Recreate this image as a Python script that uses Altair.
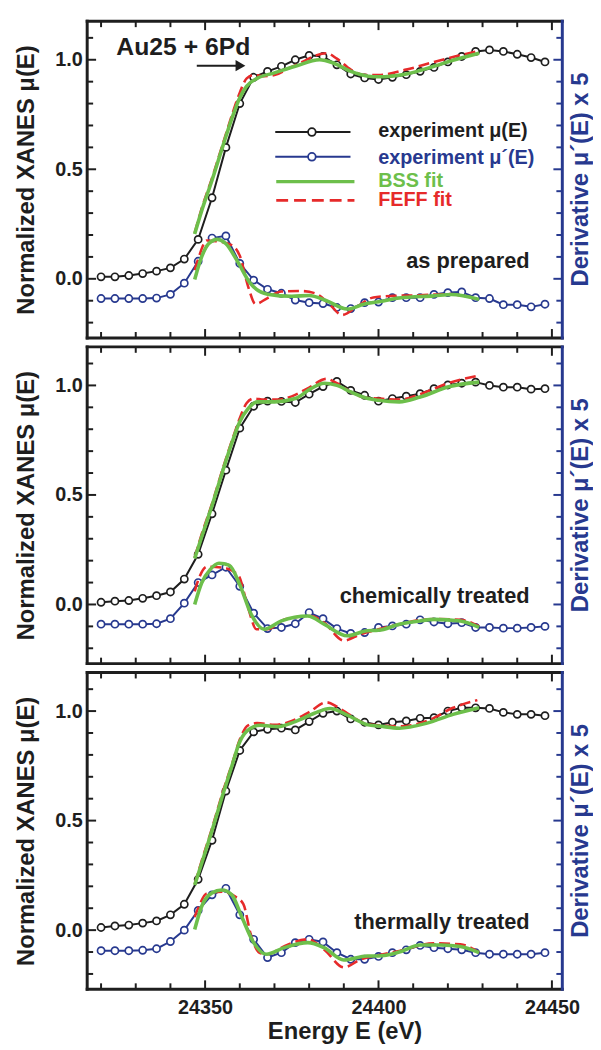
import altair as alt
import pandas as pd

# ---------------- data ----------------
E_EXP = [24320, 24324, 24328, 24332, 24336, 24340, 24344, 24348, 24352, 24356,
         24360, 24364, 24368, 24372, 24376, 24380, 24384, 24388, 24392, 24396,
         24400, 24404, 24408, 24412, 24416, 24420, 24424, 24428, 24432, 24436,
         24440, 24444, 24448]

# panel 1: as prepared
P1_MU = [0.009, 0.009, 0.015, 0.024, 0.035, 0.05, 0.09, 0.18, 0.37, 0.60, 0.80,
         0.92, 0.947, 0.97, 1.0, 1.02, 1.015, 0.977, 0.935, 0.917, 0.91, 0.92,
         0.932, 0.947, 0.965, 0.99, 1.015, 1.038, 1.045, 1.038, 1.025, 1.01, 0.99]
P1_DMU = [-0.09, -0.09, -0.09, -0.09, -0.088, -0.071, -0.02, 0.08, 0.186, 0.196,
          0.07, -0.006, -0.048, -0.066, -0.097, -0.109, -0.113, -0.131, -0.136,
          -0.109, -0.106, -0.086, -0.086, -0.086, -0.071, -0.063, -0.06, -0.086,
          -0.09, -0.118, -0.118, -0.128, -0.116]
P1_BSS_MU_E = [24347, 24349, 24352, 24355, 24358, 24360, 24362, 24365, 24370, 24376,
               24383, 24387, 24392, 24397, 24400, 24408, 24416, 24422, 24429]
P1_BSS_MU = [0.205, 0.31, 0.45, 0.60, 0.745, 0.827, 0.88, 0.915, 0.94, 0.97,
             1.0, 0.985, 0.947, 0.925, 0.922, 0.935, 0.97, 1.0, 1.03]
P1_FEFF_MU_E = [24347, 24349, 24352, 24355, 24358, 24360, 24362, 24364, 24367, 24370,
                24374, 24378, 24382, 24385, 24388, 24392, 24396, 24400, 24408, 24416,
                24422, 24429]
P1_FEFF_MU = [0.21, 0.32, 0.46, 0.61, 0.76, 0.85, 0.915, 0.93, 0.925, 0.93,
              0.96, 0.99, 1.02, 1.03, 1.005, 0.955, 0.93, 0.93, 0.955, 0.99,
              1.015, 1.04]
P1_BSS_D_E = [24347, 24349, 24351, 24353.5, 24356, 24359.5, 24363, 24368, 24375,
              24380, 24385, 24391, 24396, 24400, 24406, 24416, 24421, 24429]
P1_BSS_D = [-0.003, 0.10, 0.16, 0.18, 0.16, 0.075, -0.02, -0.07, -0.08,
            -0.076, -0.10, -0.138, -0.115, -0.105, -0.088, -0.078, -0.072, -0.094]
P1_FEFF_D_E = [24347, 24348, 24350.5, 24353, 24357.5, 24360, 24362.5, 24364.5, 24368,
               24372, 24378, 24382, 24385.5, 24389.5, 24394, 24398.5, 24404, 24412,
               24420, 24429]
P1_FEFF_D = [0.04, 0.09, 0.175, 0.172, 0.155, 0.105, -0.04, -0.115, -0.088,
             -0.058, -0.056, -0.068, -0.11, -0.165, -0.125, -0.085, -0.078, -0.075,
             -0.07, -0.095]

# panel 2: chemically treated
P2_MU = [0.01, 0.015, 0.018, 0.028, 0.04, 0.057, 0.116, 0.229, 0.414, 0.613, 0.805,
         0.905, 0.928, 0.927, 0.922, 0.96, 0.995, 1.018, 0.977, 0.955, 0.928, 0.94,
         0.951, 0.962, 0.985, 1.002, 1.01, 1.015, 1.0, 0.992, 0.992, 0.983, 0.985]
P2_DMU = [-0.09, -0.09, -0.09, -0.09, -0.088, -0.065, 0.006, 0.10, 0.135, 0.17,
          0.083, -0.04, -0.11, -0.105, -0.088, -0.037, -0.065, -0.11, -0.132,
          -0.128, -0.105, -0.098, -0.09, -0.07, -0.08, -0.088, -0.083, -0.105,
          -0.105, -0.108, -0.108, -0.105, -0.1]
P2_BSS_MU_E = [24347, 24349, 24352, 24355, 24357.7, 24360, 24362.4, 24365, 24370,
               24376, 24380.5, 24384.3, 24388, 24392, 24397, 24400, 24406, 24412,
               24420.5, 24429]
P2_BSS_MU = [0.21, 0.308, 0.451, 0.605, 0.737, 0.834, 0.894, 0.925, 0.925,
             0.94, 0.985, 1.01, 1.0, 0.97, 0.94, 0.932, 0.925, 0.947, 0.995, 1.015]
P2_FEFF_MU_E = [24347, 24349, 24352, 24355, 24358, 24360, 24362, 24364, 24367, 24371,
                24375, 24380, 24385, 24388, 24392, 24396, 24400, 24406, 24412, 24420,
                24429]
P2_FEFF_MU = [0.215, 0.32, 0.46, 0.615, 0.76, 0.85, 0.92, 0.94, 0.935, 0.935,
              0.95, 0.99, 1.03, 1.01, 0.97, 0.945, 0.94, 0.935, 0.96, 1.01, 1.045]
P2_BSS_D_E = [24347, 24349, 24351.5, 24354, 24357, 24360, 24363.3, 24367, 24372,
              24379.6, 24384.3, 24391, 24396.7, 24400, 24406, 24412, 24416, 24423.6,
              24429]
P2_BSS_D = [0.0, 0.098, 0.16, 0.188, 0.178, 0.09, -0.045, -0.113, -0.075,
            -0.053, -0.09, -0.143, -0.12, -0.118, -0.09, -0.075, -0.068, -0.075,
            -0.105]
P2_FEFF_D_E = [24347, 24348, 24350.5, 24355, 24359.5, 24362.4, 24364.8, 24368, 24373,
               24380.5, 24384.3, 24390, 24395, 24400, 24406, 24416, 24423.6, 24429]
P2_FEFF_D = [0.06, 0.11, 0.172, 0.168, 0.135, -0.015, -0.113, -0.113, -0.068,
             -0.053, -0.083, -0.165, -0.135, -0.113, -0.09, -0.066, -0.07, -0.1]

# panel 3: thermally treated
P3_MU = [0.012, 0.019, 0.023, 0.032, 0.042, 0.07, 0.118, 0.232, 0.41, 0.635, 0.82,
         0.905, 0.917, 0.922, 0.914, 0.952, 0.99, 1.0, 0.964, 0.949, 0.937, 0.949,
         0.955, 0.967, 0.97, 1.0, 1.015, 1.015, 1.012, 0.994, 0.985, 0.985, 0.979]
P3_DMU = [-0.094, -0.094, -0.094, -0.092, -0.085, -0.052, 0.0, 0.09, 0.161, 0.191,
          0.07, -0.042, -0.125, -0.103, -0.057, -0.042, -0.054, -0.103, -0.133,
          -0.133, -0.12, -0.103, -0.09, -0.07, -0.08, -0.085, -0.09, -0.103, -0.11,
          -0.11, -0.11, -0.11, -0.103]
P3_BSS_MU_E = [24347, 24349, 24352, 24355, 24357.7, 24360, 24363, 24366, 24371,
               24376, 24381.5, 24386, 24391, 24397, 24400, 24406, 24414, 24421.5,
               24429]
P3_BSS_MU = [0.206, 0.304, 0.455, 0.613, 0.748, 0.86, 0.92, 0.935, 0.929,
             0.952, 0.99, 1.012, 0.982, 0.937, 0.932, 0.922, 0.945, 0.985, 1.015]
P3_FEFF_MU_E = [24347, 24349, 24352, 24355, 24358, 24360, 24362.4, 24365, 24370,
                24375, 24380, 24385, 24388, 24391, 24396.7, 24400, 24406, 24414,
                24421.5, 24428.5]
P3_FEFF_MU = [0.21, 0.315, 0.465, 0.625, 0.77, 0.87, 0.935, 0.945, 0.937,
              0.955, 0.995, 1.04, 1.02, 0.99, 0.94, 0.935, 0.93, 0.955, 1.015, 1.05]
P3_BSS_D_E = [24347, 24349, 24352, 24354.8, 24357.7, 24360.5, 24364, 24367.6,
              24372.8, 24379.6, 24384.3, 24390, 24396.7, 24400, 24406, 24412, 24418,
              24423.6, 24429]
P3_BSS_D = [0.003, 0.108, 0.17, 0.183, 0.161, 0.063, -0.057, -0.11, -0.08,
            -0.057, -0.08, -0.136, -0.118, -0.118, -0.1, -0.068, -0.068, -0.075,
            -0.103]
P3_FEFF_D_E = [24347, 24348, 24350.5, 24355, 24358.6, 24361, 24363.3, 24365.7, 24368,
               24373, 24379.6, 24384.3, 24390, 24395, 24400, 24406, 24416, 24423.6,
               24429]
P3_FEFF_D = [0.06, 0.1, 0.168, 0.175, 0.154, 0.12, -0.027, -0.103, -0.11,
             -0.072, -0.042, -0.088, -0.17, -0.133, -0.115, -0.095, -0.06, -0.065,
             -0.103]

PANEL_LABELS = ["as prepared", "chemically treated", "thermally treated"]
SAMPLE_LABEL = "Au25 + 6Pd"
SAMPLE_LABEL_POS = [24324.4, 1.023]
ARROW_E = [24347.6, 24359.0]
ARROW_HEAD_E = 24360.2
ARROW_V = 0.973
LEGEND_TEXT = ["experiment μ(E)", "experiment μ´(E)", "BSS fit", "FEFF fit"]

X_DOMAIN = [24316, 24453]
Y_DOMAIN = [-0.27, 1.176]
X_LABELS = [24350, 24400, 24450]
X_TICKS = [24320, 24330, 24340, 24350, 24360, 24370, 24380, 24390, 24400, 24410,
           24420, 24430, 24440, 24450]
Y_LABELS = [0.0, 0.5, 1.0]
Y_TICKS = [-0.2, -0.1, 0.0, 0.1, 0.2, 0.3, 0.4, 0.5, 0.6, 0.7, 0.8, 0.9, 1.0, 1.1]

# ---------------- styling ----------------
W, H = 480, 320
FONT = "Liberation Sans"
BLACK = "#1e1e1e"
BLUE = "#27398f"
GREEN = "#6dbf4b"
RED = "#e62a2a"

one = pd.DataFrame({"a": [0]})


def series(e, v):
    return pd.DataFrame({"E": e, "v": v})


def panel(i, mu, dmu, bmu_e, bmu, bd_e, bd, fmu_e, fmu, fd_e, fd, label, label_y, bottom):
    xs = alt.Scale(domain=X_DOMAIN, nice=False, zero=False)
    ys = alt.Scale(domain=Y_DOMAIN, nice=False, zero=False)
    if bottom:
        xaxis = alt.Axis(values=X_LABELS, format="d", ticks=False, domain=False,
                         grid=False, labelPadding=8, labelFontSize=20,
                         labelFont=FONT, labelFontWeight="bold", labelColor=BLACK,
                         labelFlush=False, title="Energy E (eV)", titleFontSize=24,
                         titleFont=FONT, titleFontWeight="bold", titleColor=BLACK,
                         titlePadding=3, titleX=260)
    else:
        xaxis = None
    yaxis = alt.Axis(values=Y_LABELS, format=".1f", ticks=False, domain=False,
                     grid=False, labelPadding=5, labelFontSize=20, labelFont=FONT,
                     labelFontWeight="bold", labelColor=BLACK,
                     title="Normalized XANES μ(E)", titleFontSize=24, titleFont=FONT,
                     titleFontWeight="bold", titleColor=BLACK, titlePadding=16)
    X = alt.X("E:Q", scale=xs, axis=xaxis)
    Y = alt.Y("v:Q", scale=ys, axis=yaxis)

    exp_mu = series(E_EXP, mu)
    exp_d = series(E_EXP, dmu)

    layers = []
    # experimental curves
    for df, col in [(exp_mu, BLACK), (exp_d, BLUE)]:
        layers.append(alt.Chart(df).mark_line(color=col, strokeWidth=2).encode(x=X, y=Y))
        layers.append(alt.Chart(df).mark_point(shape="circle", filled=False, fill="white",
                                               fillOpacity=1, stroke=col, strokeWidth=1.7,
                                               size=52, opacity=1).encode(x=X, y=Y))
    # FEFF fits (dashed red)
    for e, v in [(fmu_e, fmu), (fd_e, fd)]:
        layers.append(alt.Chart(series(e, v)).mark_line(
            color=RED, strokeWidth=2.6, strokeDash=[11, 5], interpolate="monotone"
        ).encode(x=X, y=Y))
    # BSS fits (green)
    for e, v in [(bmu_e, bmu), (bd_e, bd)]:
        layers.append(alt.Chart(series(e, v)).mark_line(
            color=GREEN, strokeWidth=3.6, interpolate="monotone"
        ).encode(x=X, y=Y))

    # inward ticks
    ymin = pd.DataFrame({"v": [t for t in Y_TICKS if t not in Y_LABELS]})
    ymaj = pd.DataFrame({"v": Y_LABELS})
    xmin = pd.DataFrame({"E": [t for t in X_TICKS if t not in X_LABELS]})
    xmaj = pd.DataFrame({"E": X_LABELS})
    for df, ln in [(ymin, 6), (ymaj, 9)]:
        layers.append(alt.Chart(df).mark_rule(color=BLACK, strokeWidth=2).encode(
            y=Y, x=alt.value(0), x2=alt.value(ln)))
        layers.append(alt.Chart(df).mark_rule(color=BLUE, strokeWidth=2).encode(
            y=Y, x=alt.value(W - ln), x2=alt.value(W)))
    for df, ln in [(xmin, 6), (xmaj, 9)]:
        layers.append(alt.Chart(df).mark_rule(color=BLACK, strokeWidth=2).encode(
            x=X, y=alt.value(0), y2=alt.value(ln)))
        layers.append(alt.Chart(df).mark_rule(color=BLACK, strokeWidth=2).encode(
            x=X, y=alt.value(H - ln), y2=alt.value(H)))

    # frame
    layers.append(alt.Chart(one).mark_rule(color=BLACK, strokeWidth=3, strokeCap="square").encode(
        x=alt.value(0), y=alt.value(0), y2=alt.value(H)))
    layers.append(alt.Chart(one).mark_rule(color=BLACK, strokeWidth=3, strokeCap="square").encode(
        x=alt.value(0), x2=alt.value(W), y=alt.value(0)))
    layers.append(alt.Chart(one).mark_rule(color=BLACK, strokeWidth=3, strokeCap="square").encode(
        x=alt.value(0), x2=alt.value(W), y=alt.value(H)))
    layers.append(alt.Chart(one).mark_rule(color=BLUE, strokeWidth=3, strokeCap="square").encode(
        x=alt.value(W), y=alt.value(0), y2=alt.value(H)))

    # right axis title
    layers.append(alt.Chart(one).mark_text(
        text="Derivative μ´(E) x 5", angle=270, align="center", baseline="middle",
        font=FONT, fontWeight="bold", fontSize=24, color=BLUE
    ).encode(x=alt.value(W + 19), y=alt.value(H / 2)))

    # panel label
    layers.append(alt.Chart(one).mark_text(
        text=label, align="right", baseline="alphabetic", font=FONT,
        fontWeight="bold", fontSize=22, color=BLACK
    ).encode(x=alt.value(447), y=alt.value(label_y)))

    if i == 0:
        layers.append(alt.Chart(pd.DataFrame({"E": [SAMPLE_LABEL_POS[0]], "v": [SAMPLE_LABEL_POS[1]]}))
                      .mark_text(text=SAMPLE_LABEL, align="left", baseline="alphabetic",
                                 font=FONT, fontWeight="bold", fontSize=25, color=BLACK)
                      .encode(x=X, y=Y))
        layers.append(alt.Chart(pd.DataFrame({"E": [ARROW_E[0]], "E2": [ARROW_E[1]], "v": [ARROW_V]}))
                      .mark_rule(color=BLACK, strokeWidth=2)
                      .encode(x=X, x2="E2:Q", y=Y))
        layers.append(alt.Chart(pd.DataFrame({"E": [ARROW_HEAD_E], "v": [ARROW_V]}))
                      .mark_point(shape="triangle-right", filled=True, color=BLACK, size=130, opacity=1)
                      .encode(x=X, y=Y))
        # legend
        lx0, lx1, lxc, tx = 190, 266, 227, 294
        rows = [112, 137, 162, 181]
        layers.append(alt.Chart(one).mark_rule(color=BLACK, strokeWidth=2).encode(
            x=alt.value(lx0), x2=alt.value(lx1), y=alt.value(rows[0])))
        layers.append(alt.Chart(one).mark_point(shape="circle", filled=False, fill="white",
                                                fillOpacity=1, stroke=BLACK, strokeWidth=1.8,
                                                size=60, opacity=1).encode(
            x=alt.value(lxc), y=alt.value(rows[0])))
        layers.append(alt.Chart(one).mark_rule(color=BLUE, strokeWidth=2).encode(
            x=alt.value(lx0), x2=alt.value(lx1), y=alt.value(rows[1])))
        layers.append(alt.Chart(one).mark_point(shape="circle", filled=False, fill="white",
                                                fillOpacity=1, stroke=BLUE, strokeWidth=1.8,
                                                size=60, opacity=1).encode(
            x=alt.value(lxc), y=alt.value(rows[1])))
        layers.append(alt.Chart(one).mark_rule(color=GREEN, strokeWidth=3.4).encode(
            x=alt.value(lx0 + 1), x2=alt.value(lx1 + 4), y=alt.value(rows[2])))
        layers.append(alt.Chart(one).mark_rule(color=RED, strokeWidth=2.6, strokeDash=[12, 6]).encode(
            x=alt.value(lx0 + 1), x2=alt.value(lx1 + 4), y=alt.value(rows[3])))
        for txt, col, ry in zip(LEGEND_TEXT, [BLACK, BLUE, GREEN, RED],
                                [rows[0] - 1, rows[1] + 1, rows[2] - 1, rows[3]]):
            layers.append(alt.Chart(one).mark_text(
                text=txt, align="left", baseline="middle", font=FONT,
                fontWeight="bold", fontSize=20, color=col
            ).encode(x=alt.value(tx), y=alt.value(ry)))

    return alt.layer(*layers).properties(width=W, height=H)


p1 = panel(0, P1_MU, P1_DMU, P1_BSS_MU_E, P1_BSS_MU, P1_BSS_D_E, P1_BSS_D,
           P1_FEFF_MU_E, P1_FEFF_MU, P1_FEFF_D_E, P1_FEFF_D, PANEL_LABELS[0], 249, False)
p2 = panel(1, P2_MU, P2_DMU, P2_BSS_MU_E, P2_BSS_MU, P2_BSS_D_E, P2_BSS_D,
           P2_FEFF_MU_E, P2_FEFF_MU, P2_FEFF_D_E, P2_FEFF_D, PANEL_LABELS[1], 259, False)
p3 = panel(2, P3_MU, P3_DMU, P3_BSS_MU_E, P3_BSS_MU, P3_BSS_D_E, P3_BSS_D,
           P3_FEFF_MU_E, P3_FEFF_MU, P3_FEFF_D_E, P3_FEFF_D, PANEL_LABELS[2], 259, True)

chart = alt.vconcat(p1, p2, p3, spacing=3).properties(
    padding={"left": 7, "top": 5, "right": 0, "bottom": 0},
    background="white",
).configure_view(strokeWidth=0)

chart.save("out.html", embed_options={"renderer": "svg", "actions": False})
